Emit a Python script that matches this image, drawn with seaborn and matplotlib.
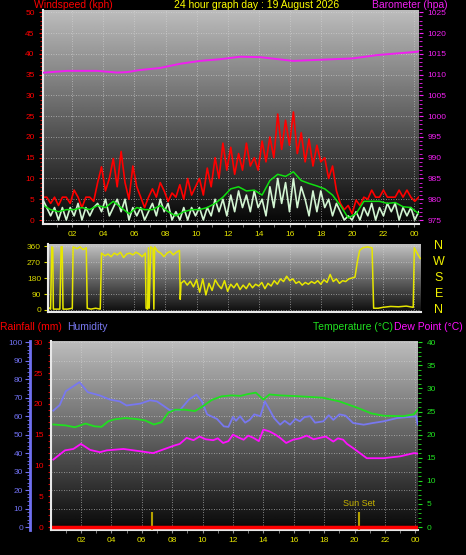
import numpy as np
import pandas as pd
import matplotlib
matplotlib.use("Agg")
import matplotlib.pyplot as plt
import matplotlib.transforms as mtransforms
from matplotlib.ticker import MultipleLocator, FixedLocator, FuncFormatter
import seaborn as sns

# Data (hours since midnight)
wind_hours = np.linspace(0.1, 24.3, 97)   # 15 minute readings
wind_gust = [5.5, 5.5, 4.0, 5.5, 3.5, 5.5, 5.5, 4.0, 7.2, 5.5,
             3.0, 5.5, 5.5, 4.5, 9.0, 12.8, 7.0, 10.0, 14.8, 8.0,
             16.5, 9.0, 5.0, 13.0, 8.0, 5.5, 3.0, 5.5, 7.5, 5.5,
             9.0, 7.0, 4.5, 6.5, 5.5, 8.5, 5.0, 10.0, 6.0, 8.0,
             10.0, 6.0, 12.5, 8.0, 15.0, 10.0, 18.5, 12.0, 17.5, 11.0,
             16.0, 12.0, 18.5, 13.0, 15.0, 12.0, 19.0, 14.0, 20.0, 15.0,
             25.5, 17.0, 24.0, 18.0, 26.0, 16.0, 21.0, 14.0, 19.5, 13.0,
             18.0, 14.0, 15.0, 10.0, 13.0, 7.0, 4.0, 2.5, 3.5, 1.5,
             4.8, 3.5, 5.5, 5.0, 7.2, 5.5, 5.5, 7.2, 5.5, 5.5,
             5.5, 7.2, 5.5, 7.2, 5.5, 4.5, 5.5]
wind_speed = [5, 3, 1, 3, 0, 3, 0, 3, 1, 4, 0, 3, 1, 3,
              4, 2, 5, 1, 3, 5, 2, 5, 0, 3, 1, 3,
              0, 2, 4, 1, 5, 2, 4, 0, 2, 0,
              3, 0, 3, 1, 3, 0, 3, 1, 5, 2,
              5, 1, 6, 2, 7, 3, 6, 2, 7, 3,
              5, 1, 8, 3, 10, 4, 9, 2, 10, 3, 8,
              5, 1, 7, 2, 7, 3, 5, 1, 4,
              2, 0, 1, 0, 2, 0,
              3, 1, 4, 0, 3, 1, 4, 2, 4, 0, 3, 1, 3, 0, 2]
avg_hours = np.linspace(0.1, 24.3, 49)    # 30 minute readings
wind_avg = [3.6, 2.5, 2, 2.5, 2.5, 3, 2.5, 3.5, 3, 4.5,
            3, 1.5, 3, 2.5, 2.5, 3.5, 2, 1, 2, 2.5,
            2.5, 3, 4, 5.5, 7.5, 8, 7, 7.2, 6, 9.5,
            11, 10.5, 11.6, 9.5, 8.8, 8.2, 7.5, 6, 3.5, 0.5,
            1.5, 4.5, 4.5, 4.5, 4, 4.2, 3.2, 3, 1.5]

baro_hours = [0.11, 1.66, 3.59, 4.88, 5.52, 6.36, 7.65, 8.93, 10.22, 11.51,
              12.8, 14.09, 16.21, 18.14, 20.07, 21.62, 22.91, 24.2, 24.3]
baro = [1010.45, 1010.9, 1010.9, 1010.5, 1010.6, 1011.1, 1011.6, 1012.6, 1013.3, 1013.7,
        1014.3, 1014.2, 1013.3, 1013.6, 1013.9, 1014.7, 1015.1, 1015.5, 1015.6]

dir_hours = [0.45, 0.6, 0.68, 0.74, 0.78, 1.2, 1.28, 1.35, 1.4, 1.7,
             2.0, 2.05, 2.3, 2.5, 2.7, 2.9, 2.96, 3.2, 3.5, 3.8,
             3.88, 4.1, 4.3, 4.5, 4.7, 4.9, 5.1, 5.3, 5.5, 5.7,
             5.9, 6.1, 6.3, 6.5, 6.7, 6.75, 6.85, 6.9, 6.95, 7.05,
             7.2, 7.25, 7.3, 7.5, 7.7, 7.9, 8.1, 8.3, 8.5, 8.7,
             8.9, 8.95, 9.0, 9.2, 9.4, 9.6, 9.8, 10.0, 10.2, 10.4,
             10.6, 10.8, 11.0, 11.2, 11.4, 11.6, 11.8, 12.0, 12.2, 12.4,
             12.6, 12.8, 13.0, 13.2, 13.4, 13.6, 13.8, 14.0, 14.2, 14.4,
             14.6, 14.8, 15.0, 15.2, 15.4, 15.6, 15.8, 16.0, 16.2, 16.4,
             16.6, 16.8, 17.0, 17.2, 17.4, 17.6, 17.8, 18.0, 18.2, 18.4,
             18.6, 18.8, 19.0, 19.2, 19.4, 19.6, 19.8, 20.0, 20.2, 20.35,
             20.5, 20.7, 21.0, 21.3, 21.4, 21.7, 22.0, 22.5, 23.0, 23.5,
             23.95, 24.02, 24.2, 24.4]
dir_deg = [15, 5, 355, 350, 5, 5, 355, 355, 5, 5,
           10, 355, 345, 355, 340, 350, 10, 5, 10, 5,
           320, 305, 315, 300, 320, 310, 325, 295, 315, 320,
           310, 325, 315, 300, 320, 10, 5, 350, 10, 355,
           345, 5, 355, 330, 320, 300, 320, 330, 310, 325,
           335, 60, 150, 165, 140, 162, 130, 170, 100, 175,
           85, 150, 110, 170, 140, 120, 165, 105, 145, 125,
           150, 115, 140, 120, 150, 125, 145, 135, 155, 120,
           150, 135, 165, 145, 175, 160, 190, 165, 175, 150,
           160, 140, 155, 145, 160, 150, 165, 145, 170, 155,
           200, 160, 175, 150, 165, 160, 175, 180, 185, 270,
           335, 350, 355, 350, 10, 10, 15, 20, 18, 22,
           15, 350, 320, 290]

hum_hours = [0.18, 0.6, 1.0, 1.46, 1.9, 2.15, 2.45, 3.25, 3.9, 4.55,
             5.0, 5.9, 6.55, 7.0, 7.4, 7.85, 8.5, 9.1, 9.6, 9.95,
             10.3, 10.95, 11.4, 11.7, 12.0, 12.2, 12.46, 12.8, 13.1, 13.4,
             13.8, 14.1, 14.4, 14.7, 15.1, 15.4, 15.75, 16.1, 16.4, 16.7,
             17.07, 17.4, 17.94, 18.3, 18.6, 19.0, 19.4, 19.9, 20.6, 21.2,
             21.9, 22.8, 23.6, 24.05, 24.15]
humidity = [63, 66, 73.5, 76, 78.4, 76, 73, 71.2, 69, 68,
            65.8, 66.8, 68.6, 68, 65.8, 63.2, 63.2, 69, 71.7, 68,
            61, 58.5, 54.5, 54.2, 59.6, 57.5, 60, 56.5, 58, 61,
            60, 68, 63.6, 59, 55.4, 57.5, 55.4, 58.5, 57.2, 59.5,
            60, 56.5, 57.2, 60.5, 58, 61, 60.3, 56.3, 55.4, 56.3,
            57.2, 59, 59.6, 60, 55.4]

temp_hours = [0.18, 1.0, 1.6, 2.3, 2.9, 3.35, 3.8, 4.2, 4.9, 5.6,
              6.2, 6.8, 7.3, 7.75, 8.2, 8.85, 9.5, 9.95, 10.6, 11.25,
              11.9, 12.5, 13.0, 13.5, 14.0, 14.4, 15.1, 16.4, 17.9, 19.0,
              20.2, 21.1, 21.9, 23.2, 23.9, 24.15]
temperature = [22.2, 22.0, 21.6, 22.4, 21.8, 21.7, 22.9, 23.3, 23.6, 23.4,
               23.1, 22.2, 22.7, 24.8, 25.4, 25.4, 25.1, 26.0, 27.5, 28.3,
               28.5, 28.4, 28.8, 29.1, 27.6, 28.7, 28.5, 28.3, 28.0, 27.2,
               25.8, 24.6, 24.1, 24.0, 24.4, 25.4]

dew_hours = [0.18, 0.95, 1.5, 2.0, 2.6, 3.25, 3.7, 4.8, 5.9, 6.75,
             8.1, 8.5, 8.95, 9.4, 9.8, 10.2, 10.7, 11.0, 11.35, 11.7,
             12.0, 12.35, 12.7, 13.0, 13.35, 13.7, 14.0, 14.4, 14.8, 15.1,
             15.5, 15.95, 16.4, 16.85, 17.3, 17.7, 18.1, 18.6, 18.9, 19.25,
             19.5, 19.9, 20.35, 20.8, 21.9, 22.99, 23.9, 24.15]
dew_point = [14.6, 16.6, 16.9, 18.0, 16.7, 16.2, 16.6, 16.9, 16.4, 16.0,
             17.6, 18.0, 19.3, 18.8, 19.6, 19.0, 18.8, 19.2, 18.2, 18.6,
             20.0, 19.4, 18.9, 19.8, 19.3, 18.6, 21.1, 20.7, 20.0, 19.3,
             18.2, 18.9, 19.2, 19.8, 19.0, 19.3, 19.6, 18.5, 19.2, 18.9,
             18.0, 17.1, 16.0, 14.9, 14.9, 15.3, 16.0, 15.9]

rain_hours = [0.18, 24.15]
rainfall = [0.0, 0.0]

sun_times = [6.67, 20.3]
sun_labels = ["", "Sun Set"]

# Look
W, H = 466, 555
FONT = ['Liberation Sans', 'DejaVu Sans']
plt.rcParams['font.family'] = FONT
GRID = dict(color='#d8d8d8', linestyle=(0, (1, 2)), linewidth=0.6, alpha=0.75)
XTICK_COL = '#e6e600'

fig = plt.figure(figsize=(W / 100, H / 100), dpi=100, facecolor='black')


def box(left, top, right, bottom):
    return [left / W, 1 - bottom / H, (right - left) / W, (bottom - top) / H]


def shade(ax, top, bottom):
    grad = np.linspace(top, bottom, 256).reshape(-1, 1)
    ax.imshow(grad, cmap='gray', vmin=0, vmax=1, aspect='auto', extent=(0, 1, 0, 1),
              transform=ax.transAxes, zorder=0, interpolation='bilinear')


def frame(ax):
    for side in ['top', 'right']:
        ax.spines[side].set_visible(False)
    for side in ['left', 'bottom']:
        ax.spines[side].set_color('#e8e8e8')
        ax.spines[side].set_linewidth(1.5)


def hour_axis(ax, labels=True):
    ax.xaxis.set_major_locator(MultipleLocator(2))
    ax.xaxis.set_minor_locator(MultipleLocator(1))
    ax.xaxis.set_major_formatter(FuncFormatter(lambda v, p: f"{int(round(v)) % 24:02d}"))
    ax.tick_params(axis='x', which='both', bottom=labels, labelbottom=labels,
                   colors='#909090', labelcolor=XTICK_COL, labelsize=6, length=2, pad=3)


def hide_spines(ax):
    for s in ax.spines.values():
        s.set_visible(False)


def ftext(x, y, s, color, size=7.5, ha='left'):
    fig.text(x / W, 1 - y / H, s, color=color, fontsize=size, ha=ha, va='center')


# ---------------- Wind + barometer ----------------
ax1 = fig.add_axes(box(43, 10, 419, 224))
shade(ax1, 0.74, 0.02)
wind = pd.DataFrame({'hour': wind_hours, 'gust': wind_gust, 'speed': wind_speed})
avg = pd.DataFrame({'hour': avg_hours, 'avg': wind_avg})
sns.lineplot(data=wind, x='hour', y='gust', ax=ax1, color='#ff0000', linewidth=1.2)
sns.lineplot(data=wind, x='hour', y='speed', ax=ax1, color='#d2f5d2', linewidth=1.2)
sns.lineplot(data=avg, x='hour', y='avg', ax=ax1, color='#10e010', linewidth=1.1)
ax1.set_xlim(0.113, 24.32)
ax1.set_ylim(-0.96, 50.55)
ax1.set(xlabel='', ylabel='')
hour_axis(ax1)
ax1.yaxis.set_major_locator(MultipleLocator(5))
ax1.yaxis.set_minor_locator(MultipleLocator(1))
ax1.tick_params(axis='y', which='both', left=True, colors='#ff0000', labelsize=6, length=3, pad=3)
ax1.tick_params(axis='y', which='minor', length=2)
ax1.set_axisbelow(True)
ax1.grid(True, which='major', **GRID)
frame(ax1)

ax1b = ax1.twinx()
sns.lineplot(x=baro_hours, y=baro, ax=ax1b, color='#f020f0', linewidth=1.4)
ax1b.set_xlim(0.113, 24.32)
ax1b.set_ylim(974.04, 1025.55)
ax1b.set(xlabel='', ylabel='')
ax1b.yaxis.set_major_locator(MultipleLocator(5))
ax1b.yaxis.set_minor_locator(MultipleLocator(1))
ax1b.tick_params(axis='y', which='both', right=True, colors='#f020f0', labelsize=6, length=3, pad=3)
ax1b.tick_params(axis='y', which='minor', length=2)
hide_spines(ax1b)

ftext(34, 5.5, "Windspeed (kph)", '#ff0000')
ftext(257, 5.5, "24 hour graph day : 19 August 2026", '#ffff00', ha='center')
ftext(372, 5.5, "Barometer (hpa)", '#f020f0')

# ---------------- Wind direction ----------------
ax2 = fig.add_axes(box(48, 244, 421, 312))
shade(ax2, 0.76, 0.05)
sns.lineplot(x=dir_hours, y=dir_deg, ax=ax2, color='#e6e600', linewidth=1.1, sort=False)
ax2.set_xlim(0.435, 24.45)
ax2.set_ylim(-11.25, 371.25)
ax2.set(xlabel='', ylabel='')
ax2.xaxis.set_major_locator(MultipleLocator(2))
ax2.tick_params(axis='x', which='both', bottom=False, labelbottom=False)
ax2.yaxis.set_major_locator(FixedLocator([0, 90, 180, 270, 360]))
ax2.tick_params(axis='y', left=True, colors='#d8d800', labelsize=6, length=3, pad=2)
ax2.set_axisbelow(True)
ax2.grid(True, which='major', **GRID)
frame(ax2)
compass = mtransforms.blended_transform_factory(ax2.transAxes, ax2.transData)
for deg, letter in zip([360, 270, 180, 90, 0], ['N', 'W', 'S', 'E', 'N']):
    ax2.text(1.048, deg, letter, transform=compass, color='#f0f000', fontsize=9,
             ha='center', va='center', clip_on=False)

# ---------------- Humidity / rain / temperature ----------------
ax3 = fig.add_axes(box(51, 341, 418, 530))
shade(ax3, 0.74, 0.03)
sns.lineplot(x=hum_hours, y=humidity, ax=ax3, color='#7878f0', linewidth=1.3)
ax3.vlines(sun_times, -1.62, 8.3, color='#b4a000', linewidth=1.5, zorder=3)
for t, lab in zip(sun_times, sun_labels):
    if lab:
        ax3.text(t, 10.4, lab, color='#c8b400', fontsize=6.5, ha='center', va='bottom')
ax3.set_xlim(0.03, 24.17)
ax3.set_ylim(-1.62, 100.7)
ax3.set(xlabel='', ylabel='')
hour_axis(ax3)
ax3.yaxis.set_major_locator(MultipleLocator(10))
ax3.yaxis.set_minor_locator(MultipleLocator(2))
ax3.tick_params(axis='y', which='both', left=True, colors='#7070f0', labelsize=6, length=3.5, pad=1.5)
ax3.tick_params(axis='y', which='minor', length=2)
ax3.set_axisbelow(True)
ax3.grid(True, which='major', **GRID)
frame(ax3)
ax3.spines['left'].set_position(('axes', -21 / 367))
ax3.spines['left'].set_color('#7070f0')
ax3.spines['left'].set_linewidth(2)

ax_rain = ax3.twinx()
sns.lineplot(x=rain_hours, y=rainfall, ax=ax_rain, color='#ff0000', linewidth=2.5)
ax_rain.set_xlim(0.03, 24.17)
ax_rain.set_ylim(-0.486, 30.21)
ax_rain.set(xlabel='', ylabel='')
ax_rain.yaxis.set_ticks_position('left')
ax_rain.yaxis.set_major_locator(MultipleLocator(5))
ax_rain.yaxis.set_minor_locator(MultipleLocator(1))
ax_rain.tick_params(axis='y', which='both', left=True, right=False, labelleft=True, labelright=False,
                    colors='#ff0000', labelsize=6, length=2.5, pad=3)
hide_spines(ax_rain)
ax_rain.spines['left'].set_visible(True)
ax_rain.spines['left'].set_color('#e8e8e8')
ax_rain.spines['left'].set_linewidth(1.5)

ax_temp = ax3.twinx()
sns.lineplot(x=temp_hours, y=temperature, ax=ax_temp, color='#20e020', linewidth=1.3)
sns.lineplot(x=dew_hours, y=dew_point, ax=ax_temp, color='#ff10ff', linewidth=1.3)
ax_temp.set_xlim(0.03, 24.17)
ax_temp.set_ylim(-0.648, 40.28)
ax_temp.set(xlabel='', ylabel='')
ax_temp.yaxis.set_major_locator(MultipleLocator(5))
ax_temp.yaxis.set_minor_locator(MultipleLocator(1))
ax_temp.tick_params(axis='y', which='both', right=True, colors='#20e020', labelsize=6, length=3, pad=3)
ax_temp.tick_params(axis='y', which='minor', length=2)
hide_spines(ax_temp)

ftext(0, 326.5, "Rainfall (mm)", '#ff0000')
ftext(67, 326.5, "Humidity", '#7878f0')
ftext(313, 326.5, "Temperature (\u00b0C)", '#20e020')
ftext(394, 326.5, "Dew Point (\u00b0C)", '#ff10ff')

fig.savefig("out.png", dpi=100, facecolor='black')
